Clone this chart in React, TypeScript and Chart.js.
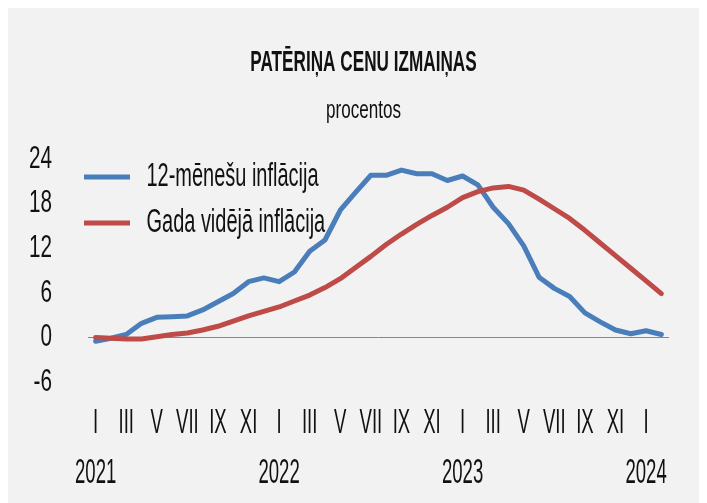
import { useEffect, useRef } from 'react';
import { Chart, registerables } from 'chart.js';

Chart.register(...registerables);

// ---- data ----
const categories = [
  '2021-01', '2021-02', '2021-03', '2021-04', '2021-05', '2021-06', '2021-07', '2021-08', '2021-09', '2021-10', '2021-11', '2021-12',
  '2022-01', '2022-02', '2022-03', '2022-04', '2022-05', '2022-06', '2022-07', '2022-08', '2022-09', '2022-10', '2022-11', '2022-12',
  '2023-01', '2023-02', '2023-03', '2023-04', '2023-05', '2023-06', '2023-07', '2023-08', '2023-09', '2023-10', '2023-11', '2023-12',
  '2024-01', '2024-02',
];
const romanMonths = ['I', 'II', 'III', 'IV', 'V', 'VI', 'VII', 'VIII', 'IX', 'X', 'XI', 'XII'];
const yearLabels = ['2021', '2022', '2023', '2024'];

const inflation12m = [
  -0.5, -0.1, 0.4, 1.9, 2.7, 2.8, 2.9, 3.7, 4.8, 5.9, 7.5, 8.0,
  7.5, 8.8, 11.6, 13.1, 17.1, 19.5, 21.8, 21.8, 22.5, 22.0, 22.0, 21.1,
  21.7, 20.5, 17.5, 15.3, 12.3, 8.1, 6.6, 5.5, 3.3, 2.1, 1.0, 0.5,
  0.9, 0.4,
];
const inflationAvg = [
  0.0, -0.1, -0.2, -0.2, 0.1, 0.4, 0.6, 1.0, 1.5, 2.2, 2.9, 3.5,
  4.1, 4.9, 5.7, 6.7, 7.9, 9.4, 10.9, 12.5, 13.9, 15.2, 16.4, 17.5,
  18.8, 19.6, 20.1, 20.3, 19.8, 18.6, 17.3, 16.0, 14.4, 12.7, 11.0, 9.3,
  7.6, 5.9,
];
const seriesNames = ['12-mēnešu inflācija', 'Gada vidējā inflācija'];
const titleText = 'PATĒRIŅA CENU IZMAIŅAS';
const subtitleText = 'procentos';
const yMin = -6;
const yMax = 24;
const yStep = 6;

// ---- style ----
const FONT = "'Liberation Sans', Arial, sans-serif";
const TEXT = '#111111';
const BLUE = '#4A7EBB';
const RED = '#BE4B48';

// condensed look: horizontal squeeze per font size
const SQUEEZE: Record<number, number> = { 29: 0.592, 25: 0.683, 33: 0.605, 32: 0.646, 35: 0.53 };
function squeezeFor(font: string): number {
  const m = /(\d+(?:\.\d+)?)px/.exec(font);
  const s = m ? parseFloat(m[1]) : 0;
  return SQUEEZE[s] ?? 1;
}

function condenseContext(ctx: CanvasRenderingContext2D) {
  const proto = CanvasRenderingContext2D.prototype;
  (ctx as any).fillText = function (text: string, x: number, y: number, maxWidth?: number) {
    const k = squeezeFor(this.font);
    if (k === 1) {
      if (maxWidth === undefined) return proto.fillText.call(this, text, x, y);
      return proto.fillText.call(this, text, x, y, maxWidth);
    }
    this.save();
    this.translate(x, y);
    this.scale(k, 1);
    if (maxWidth === undefined) proto.fillText.call(this, text, 0, 0);
    else proto.fillText.call(this, text, 0, 0, maxWidth / k);
    this.restore();
  };
  (ctx as any).measureText = function (text: string) {
    const m = proto.measureText.call(this, text);
    const k = squeezeFor(this.font);
    if (k === 1) return m;
    return {
      width: m.width * k,
      actualBoundingBoxLeft: m.actualBoundingBoxLeft * k,
      actualBoundingBoxRight: m.actualBoundingBoxRight * k,
      actualBoundingBoxAscent: m.actualBoundingBoxAscent,
      actualBoundingBoxDescent: m.actualBoundingBoxDescent,
      fontBoundingBoxAscent: m.fontBoundingBoxAscent,
      fontBoundingBoxDescent: m.fontBoundingBoxDescent,
    } as TextMetrics;
  };
}

const legendPlacer = {
  id: 'legendPlacer',
  afterLayout(chart: any) {
    const lg = chart.legend;
    if (!lg) return;
    lg.left = 63;
    lg.top = 139.5;
    lg.right = lg.left + lg.width;
    lg.bottom = lg.top + 200;
  },
};

export default function App() {
  const ref = useRef<HTMLCanvasElement | null>(null);

  useEffect(() => {
    document.body.style.overflow = 'hidden';
    document.documentElement.style.overflow = 'hidden';
    const canvas = ref.current;
    if (!canvas) return;
    const ctx = canvas.getContext('2d');
    if (!ctx) return;
    condenseContext(ctx);

    const chart = new Chart(ctx, {
      type: 'line',
      data: {
        labels: categories,
        datasets: [
          {
            label: seriesNames[0],
            data: inflation12m,
            borderColor: BLUE,
            backgroundColor: BLUE,
            borderWidth: 5,
            pointRadius: 0,
            pointHoverRadius: 0,
            tension: 0,
            borderCapStyle: 'round',
            borderJoinStyle: 'round',
            order: 1,
          },
          {
            label: seriesNames[1],
            data: inflationAvg,
            borderColor: RED,
            backgroundColor: RED,
            borderWidth: 5,
            pointRadius: 0,
            pointHoverRadius: 0,
            tension: 0,
            borderCapStyle: 'round',
            borderJoinStyle: 'round',
            order: 0,
          },
        ],
      },
      options: {
        animation: false,
        responsive: false,
        devicePixelRatio: 1,
        layout: { padding: 0 },
        events: [],
        plugins: {
          title: {
            display: true,
            text: titleText,
            color: TEXT,
            font: { family: FONT, size: 29, weight: 'bold', lineHeight: 1.2 },
            padding: { top: 37.6, bottom: 0 },
          },
          subtitle: {
            display: true,
            text: subtitleText,
            color: TEXT,
            font: { family: FONT, size: 25, weight: 'normal', lineHeight: 1.2 },
            padding: { top: 16.2, bottom: 32.3 },
          },
          legend: {
            position: 'chartArea' as any,
            align: 'start',
            labels: {
              usePointStyle: true,
              pointStyle: 'line',
              pointStyleWidth: 46,
              padding: 13,
              color: TEXT,
              font: { family: FONT, size: 33 },
              sort: (a: any, b: any) => a.datasetIndex - b.datasetIndex,
            },
          },
          tooltip: { enabled: false },
        },
        scales: {
          x: {
            type: 'category',
            offset: true,
            grid: { display: false, drawTicks: false },
            border: { display: false },
            ticks: {
              autoSkip: false,
              maxRotation: 0,
              minRotation: 0,
              padding: 16,
              color: TEXT,
              font: { family: FONT, size: 35, lineHeight: 50 / 35 },
              callback: (_value: any, index: number) => {
                const m = index % 12;
                if (m % 2 !== 0) return '';
                const r = romanMonths[m];
                if (m === 0) return [r, yearLabels[Math.floor(index / 12)]];
                return r;
              },
            },
            afterFit: (scale: any) => {
              scale.height = 120.9;
            },
          },
          y: {
            min: yMin,
            max: yMax,
            ticks: {
              stepSize: yStep,
              padding: 36,
              color: TEXT,
              font: { family: FONT, size: 32 },
            },
            grid: {
              drawTicks: false,
              lineWidth: 1,
              color: (c: any) => (c.tick && c.tick.value === 0 ? '#868686' : 'rgba(0,0,0,0)'),
            },
            border: { display: false },
            afterFit: (scale: any) => {
              scale.width = 80;
            },
          },
          yRight: {
            position: 'right',
            min: yMin,
            max: yMax,
            ticks: { display: false },
            grid: { display: false, drawTicks: false },
            border: { display: false },
            afterFit: (scale: any) => {
              scale.width = 50;
            },
          },
        },
      } as any,
      plugins: [legendPlacer],
    });

    return () => {
      chart.destroy();
    };
  }, []);

  return (
    <div style={{ width: 711, height: 495 }}>
      <canvas
        ref={ref}
        width={711}
        height={495}
        style={{ display: 'block', width: 711, height: 495, background: '#f2f2f2' }}
      />
    </div>
  );
}
